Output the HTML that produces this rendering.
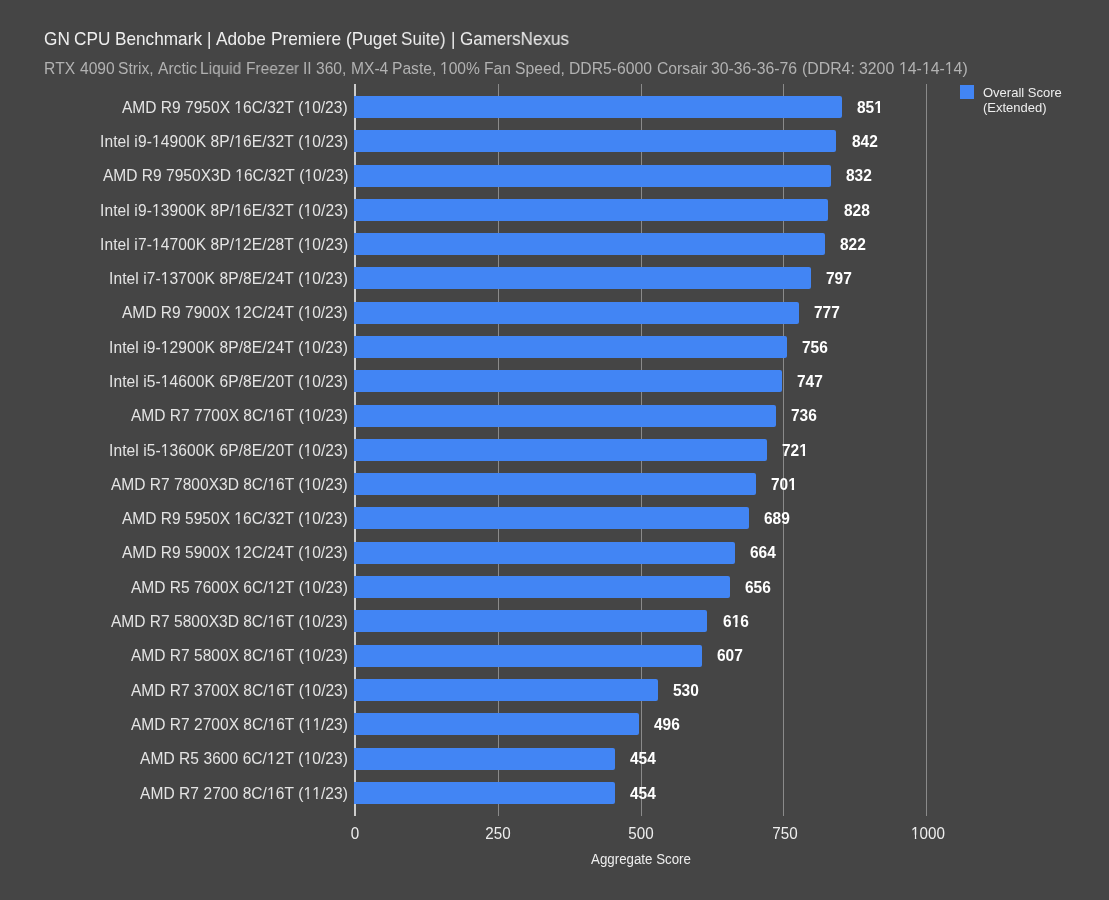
<!DOCTYPE html>
<html><head><meta charset="utf-8"><style>
html,body{margin:0;padding:0}
body{font-kerning:none;filter:blur(0.35px);width:1109px;height:900px;background:#454545;position:relative;overflow:hidden;font-family:"Liberation Sans",sans-serif}
.a{position:absolute;white-space:nowrap;line-height:1;will-change:transform}
.t{left:44px;top:30px;font-size:17.1px;color:#eeeeee;letter-spacing:0px;transform:scaleY(1.08);transform-origin:0 0}
.s{left:45px;top:61.4px;font-size:15.61px;color:#b2b2b2;letter-spacing:0px;transform:scaleY(1.0);transform-origin:0 0}
.l{right:761px;font-size:15.55px;color:#e4e4e4;letter-spacing:0px;transform:scaleY(1.04);transform-origin:0 50%}
.v{font-size:15.5px;font-weight:bold;color:#ffffff;transform:scaleY(1.04);transform-origin:0 50%}
.b{background:#4285f4;height:22px;border-radius:0 2px 2px 0}
.g{width:1px;top:84px;height:732px;background:#8a8a8a}
.o{display:inline-block;clip-path:polygon(-1em -1em,2em -1em,2em 0.62em,0.34em 0.62em,0.34em 2em,0.246em 2em,0.246em 0.62em,-1em 0.62em)}
.ob{display:inline-block;clip-path:polygon(-1em -1em,2em -1em,2em 0.6em,0.375em 0.6em,0.375em 2em,0.228em 2em,0.228em 0.6em,-1em 0.6em)}
.k{font-size:15.2px;color:#eeeeee;top:824.8px;width:100px;text-align:center;transform:scaleY(1.04);transform-origin:0 0}
</style></head><body>
<div class="a t" style="left:43.67px;transform:scale(1.0061,1.08)">GN</div>
<div class="a t" style="left:74.24px;transform:scale(1.0061,1.08)">CPU</div>
<div class="a t" style="left:115.33px;transform:scale(1.0061,1.08)">Benchmark</div>
<div class="a t" style="left:207.11px;transform:scale(1.0061,1.08)">|</div>
<div class="a t" style="left:216.36px;transform:scale(1.0089,1.08)">Adobe</div>
<div class="a t" style="left:271.04px;transform:scale(1.0091,1.08)">Premiere</div>
<div class="a t" style="left:345.80px;transform:scale(1.0088,1.08)">(Puget</div>
<div class="a t" style="left:401.35px;transform:scale(0.9964,1.08)">Suite)</div>
<div class="a t" style="left:450.58px;transform:scale(0.9964,1.08)">|</div>
<div class="a t" style="left:459.75px;transform:scale(0.9964,1.08)">GamersNexus</div>
<div class="a s" style="left:44.43px;transform:scale(0.9880,1.0)">RTX</div>
<div class="a s" style="left:79.58px;transform:scale(0.9880,1.0)">4090</div>
<div class="a s" style="left:118.19px;transform:scale(0.9880,1.0)">Strix,</div>
<div class="a s" style="left:157.62px;transform:scale(0.9880,1.0)">Arctic</div>
<div class="a s" style="left:200.47px;transform:scale(0.9880,1.0)">Liquid</div>
<div class="a s" style="left:245.94px;transform:scale(0.9892,1.0)">Freezer</div>
<div class="a s" style="left:303.44px;transform:scale(0.9903,1.0)">II</div>
<div class="a s" style="left:316.34px;transform:scale(0.9903,1.0)">360,</div>
<div class="a s" style="left:350.74px;transform:scale(0.9903,1.0)">MX-4</div>
<div class="a s" style="left:391.98px;transform:scale(0.9903,1.0)">Paste,</div>
<div class="a s" style="left:440.12px;transform:scale(0.9903,1.0)"><span class="o">1</span>00%</div>
<div class="a s" style="left:483.96px;transform:scale(0.9955,1.0)">Fan</div>
<div class="a s" style="left:515.13px;transform:scale(1.0056,1.0)">Speed,</div>
<div class="a s" style="left:569.26px;transform:scale(1.0056,1.0)">DDR5-6000</div>
<div class="a s" style="left:656.51px;transform:scale(1.0056,1.0)">Corsair</div>
<div class="a s" style="left:711.47px;transform:scale(1.0122,1.0)">30-36-36-76</div>
<div class="a s" style="left:801.96px;transform:scale(1.0144,1.0)">(DDR4:</div>
<div class="a s" style="left:859.16px;transform:scale(1.0144,1.0)">3200</div>
<div class="a s" style="left:898.80px;transform:scale(1.0144,1.0)"><span class="o">1</span>4-<span class="o">1</span>4-<span class="o">1</span>4)</div>
<div class="a g" style="left:498.00px"></div>
<div class="a g" style="left:640.70px"></div>
<div class="a g" style="left:783.40px"></div>
<div class="a g" style="left:926.10px"></div>
<div class="a" style="left:354px;width:2px;top:84px;height:732px;background:#cccccc"></div>
<div class="a b" style="left:354px;top:96.00px;width:487.55px"></div>
<div class="a l" style="top:99.70px;letter-spacing:0.000px;margin-right:0.000px">AMD R9 7950X <span class="o">1</span>6C/32T (<span class="o">1</span>0/23)</div>
<div class="a v" style="left:856.65px;top:99.70px">85<span class="ob">1</span></div>
<div class="a b" style="left:354px;top:130.29px;width:482.41px"></div>
<div class="a l" style="top:133.99px;letter-spacing:0.106px;margin-right:-0.106px">Intel i9-<span class="o">1</span>4900K 8P/<span class="o">1</span>6E/32T (<span class="o">1</span>0/23)</div>
<div class="a v" style="left:851.51px;top:133.99px">842</div>
<div class="a b" style="left:354px;top:164.58px;width:476.71px"></div>
<div class="a l" style="top:168.28px;letter-spacing:0.000px;margin-right:0.000px">AMD R9 7950X3D <span class="o">1</span>6C/32T (<span class="o">1</span>0/23)</div>
<div class="a v" style="left:845.81px;top:168.28px">832</div>
<div class="a b" style="left:354px;top:198.87px;width:474.42px"></div>
<div class="a l" style="top:202.57px;letter-spacing:0.106px;margin-right:-0.106px">Intel i9-<span class="o">1</span>3900K 8P/<span class="o">1</span>6E/32T (<span class="o">1</span>0/23)</div>
<div class="a v" style="left:843.52px;top:202.57px">828</div>
<div class="a b" style="left:354px;top:233.16px;width:471.00px"></div>
<div class="a l" style="top:236.86px;letter-spacing:0.106px;margin-right:-0.106px">Intel i7-<span class="o">1</span>4700K 8P/<span class="o">1</span>2E/28T (<span class="o">1</span>0/23)</div>
<div class="a v" style="left:840.10px;top:236.86px">822</div>
<div class="a b" style="left:354px;top:267.45px;width:456.73px"></div>
<div class="a l" style="top:271.15px;letter-spacing:0.094px;margin-right:-0.094px">Intel i7-<span class="o">1</span>3700K 8P/8E/24T (<span class="o">1</span>0/23)</div>
<div class="a v" style="left:825.83px;top:271.15px">797</div>
<div class="a b" style="left:354px;top:301.74px;width:445.31px"></div>
<div class="a l" style="top:305.44px;letter-spacing:0.000px;margin-right:0.000px">AMD R9 7900X <span class="o">1</span>2C/24T (<span class="o">1</span>0/23)</div>
<div class="a v" style="left:814.41px;top:305.44px">777</div>
<div class="a b" style="left:354px;top:336.03px;width:433.32px"></div>
<div class="a l" style="top:339.73px;letter-spacing:0.094px;margin-right:-0.094px">Intel i9-<span class="o">1</span>2900K 8P/8E/24T (<span class="o">1</span>0/23)</div>
<div class="a v" style="left:802.42px;top:339.73px">756</div>
<div class="a b" style="left:354px;top:370.32px;width:428.19px"></div>
<div class="a l" style="top:374.02px;letter-spacing:0.094px;margin-right:-0.094px">Intel i5-<span class="o">1</span>4600K 6P/8E/20T (<span class="o">1</span>0/23)</div>
<div class="a v" style="left:797.29px;top:374.02px">747</div>
<div class="a b" style="left:354px;top:404.61px;width:421.91px"></div>
<div class="a l" style="top:408.31px;letter-spacing:0.000px;margin-right:0.000px">AMD R7 7700X 8C/<span class="o">1</span>6T (<span class="o">1</span>0/23)</div>
<div class="a v" style="left:791.01px;top:408.31px">736</div>
<div class="a b" style="left:354px;top:438.90px;width:413.35px"></div>
<div class="a l" style="top:442.60px;letter-spacing:0.094px;margin-right:-0.094px">Intel i5-<span class="o">1</span>3600K 6P/8E/20T (<span class="o">1</span>0/23)</div>
<div class="a v" style="left:782.45px;top:442.60px">72<span class="ob">1</span></div>
<div class="a b" style="left:354px;top:473.19px;width:401.93px"></div>
<div class="a l" style="top:476.89px;letter-spacing:0.000px;margin-right:0.000px">AMD R7 7800X3D 8C/<span class="o">1</span>6T (<span class="o">1</span>0/23)</div>
<div class="a v" style="left:771.03px;top:476.89px">70<span class="ob">1</span></div>
<div class="a b" style="left:354px;top:507.48px;width:395.08px"></div>
<div class="a l" style="top:511.18px;letter-spacing:0.000px;margin-right:0.000px">AMD R9 5950X <span class="o">1</span>6C/32T (<span class="o">1</span>0/23)</div>
<div class="a v" style="left:764.18px;top:511.18px">689</div>
<div class="a b" style="left:354px;top:541.77px;width:380.81px"></div>
<div class="a l" style="top:545.47px;letter-spacing:0.000px;margin-right:0.000px">AMD R9 5900X <span class="o">1</span>2C/24T (<span class="o">1</span>0/23)</div>
<div class="a v" style="left:749.91px;top:545.47px">664</div>
<div class="a b" style="left:354px;top:576.06px;width:376.24px"></div>
<div class="a l" style="top:579.76px;letter-spacing:0.000px;margin-right:0.000px">AMD R5 7600X 6C/<span class="o">1</span>2T (<span class="o">1</span>0/23)</div>
<div class="a v" style="left:745.34px;top:579.76px">656</div>
<div class="a b" style="left:354px;top:610.35px;width:353.41px"></div>
<div class="a l" style="top:614.05px;letter-spacing:0.000px;margin-right:0.000px">AMD R7 5800X3D 8C/<span class="o">1</span>6T (<span class="o">1</span>0/23)</div>
<div class="a v" style="left:722.51px;top:614.05px">6<span class="ob">1</span>6</div>
<div class="a b" style="left:354px;top:644.64px;width:348.28px"></div>
<div class="a l" style="top:648.34px;letter-spacing:0.000px;margin-right:0.000px">AMD R7 5800X 8C/<span class="o">1</span>6T (<span class="o">1</span>0/23)</div>
<div class="a v" style="left:717.38px;top:648.34px">607</div>
<div class="a b" style="left:354px;top:678.93px;width:304.32px"></div>
<div class="a l" style="top:682.63px;letter-spacing:0.000px;margin-right:0.000px">AMD R7 3700X 8C/<span class="o">1</span>6T (<span class="o">1</span>0/23)</div>
<div class="a v" style="left:673.42px;top:682.63px">530</div>
<div class="a b" style="left:354px;top:713.22px;width:284.92px"></div>
<div class="a l" style="top:716.92px;letter-spacing:0.000px;margin-right:0.000px">AMD R7 2700X 8C/<span class="o">1</span>6T (<span class="o">1</span><span class="o">1</span>/23)</div>
<div class="a v" style="left:654.02px;top:716.92px">496</div>
<div class="a b" style="left:354px;top:747.51px;width:260.94px"></div>
<div class="a l" style="top:751.21px;letter-spacing:0.056px;margin-right:-0.056px">AMD R5 3600 6C/<span class="o">1</span>2T (<span class="o">1</span>0/23)</div>
<div class="a v" style="left:630.04px;top:751.21px">454</div>
<div class="a b" style="left:354px;top:781.80px;width:260.94px"></div>
<div class="a l" style="top:785.50px;letter-spacing:0.056px;margin-right:-0.056px">AMD R7 2700 8C/<span class="o">1</span>6T (<span class="o">1</span><span class="o">1</span>/23)</div>
<div class="a v" style="left:630.04px;top:785.50px">454</div>
<div class="a k" style="left:305.45px">0</div>
<div class="a k" style="left:447.90px">250</div>
<div class="a k" style="left:590.90px">500</div>
<div class="a k" style="left:734.50px">750</div>
<div class="a k" style="left:877.95px"><span class="o">1</span>000</div>
<div class="a" style="left:541.2px;width:200px;text-align:center;top:852px;font-size:13.3px;color:#eeeeee;transform:scaleY(1.07);transform-origin:0 0">Aggregate Score</div>
<div class="a" style="left:960px;top:85px;width:14px;height:14px;background:#4285f4"></div>
<div class="a" style="left:983px;top:85px;font-size:13.0px;line-height:15.2px;color:#eeeeee;transform:scaleY(1.0);transform-origin:0 0">Overall Score<br>(Extended)</div>
</body></html>
